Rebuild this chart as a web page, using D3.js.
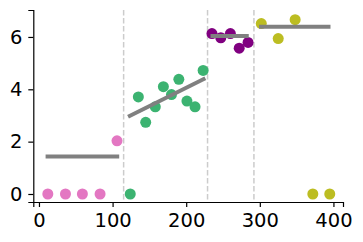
<!DOCTYPE html>
<html><head><meta charset="utf-8">
<script src="https://cdn.jsdelivr.net/npm/d3@7"></script>
<style>body{margin:0;background:#fff}svg{display:block}</style>
</head><body>
<script>
const pinkX=[12,36,59,83,106];
const pinkY=[0,0,0,0,2.03];
const greenX=[124,135,145,158,169,180,190,201,212,223];
const greenY=[0,3.71,2.74,3.33,4.1,3.8,4.38,3.55,3.33,4.72];
const purpleX=[235,247,260,272,284];
const purpleY=[6.13,5.97,6.13,5.57,5.79];
const oliveX=[302,325,348,372,395];
const oliveY=[6.51,5.94,6.66,0,0];
const breaks=[115,229,292];
const fitX1=[9,121,233,299];
const fitX2=[109,226,285,396];
const fitY1=[1.43,2.95,6.04,6.39];
const fitY2=[1.43,4.42,6.04,6.39];
const xTicks=[0,100,200,300,400];
const yTicks=[0,2,4,6];

const W=363,H=242;
const svg=d3.select("body").append("svg").attr("width",W).attr("height",H);
const x=d3.scaleLinear().domain([-7.7,413]).range([33.3,343]);
const y=d3.scaleLinear().domain([-0.306,7.03]).range([202,10]);

svg.append("g").selectAll("line").data(breaks).join("line")
  .attr("x1",d=>x(d)).attr("x2",d=>x(d)).attr("y1",10).attr("y2",202)
  .attr("stroke","#cccccc").attr("stroke-width",1.5).attr("stroke-dasharray","5.5,2.5");

const groups=[
  {xs:pinkX,ys:pinkY,c:"#e377c2"},
  {xs:greenX,ys:greenY,c:"#3cb371"},
  {xs:purpleX,ys:purpleY,c:"#800080"},
  {xs:oliveX,ys:oliveY,c:"#bcbd22"}
];
groups.forEach(g=>{
  svg.append("g").selectAll("circle").data(g.xs.map((v,i)=>[v,g.ys[i]])).join("circle")
    .attr("cx",d=>x(d[0])).attr("cy",d=>y(d[1])).attr("r",5.5).attr("fill",g.c);
});
svg.append("g").selectAll("line").data(fitX1.map((v,i)=>i)).join("line")
  .attr("x1",i=>x(fitX1[i])).attr("x2",i=>x(fitX2[i]))
  .attr("y1",i=>y(fitY1[i])).attr("y2",i=>y(fitY2[i]))
  .attr("stroke","#808080").attr("stroke-width",4);

const fs="19.5px";
const xa=svg.append("g").attr("transform","translate(0,202)")
  .call(d3.axisBottom(x).tickValues(xTicks).tickSizeOuter(0).tickSize(5).tickPadding(6).tickFormat(d3.format("d")));
const ya=svg.append("g").attr("transform","translate(33.3,0)")
  .call(d3.axisLeft(y).tickValues(yTicks).tickSizeOuter(0).tickSize(5).tickPadding(6).tickFormat(d3.format("d")));
[xa,ya].forEach(a=>{
  a.selectAll("text").attr("font-family","DejaVu Sans").attr("font-size",fs).attr("fill","#000");
  a.selectAll("line").attr("stroke","#000").attr("stroke-width",1.2);
  a.select(".domain").attr("stroke","#000").attr("stroke-width",1.2);
});
</script>
</body></html>
